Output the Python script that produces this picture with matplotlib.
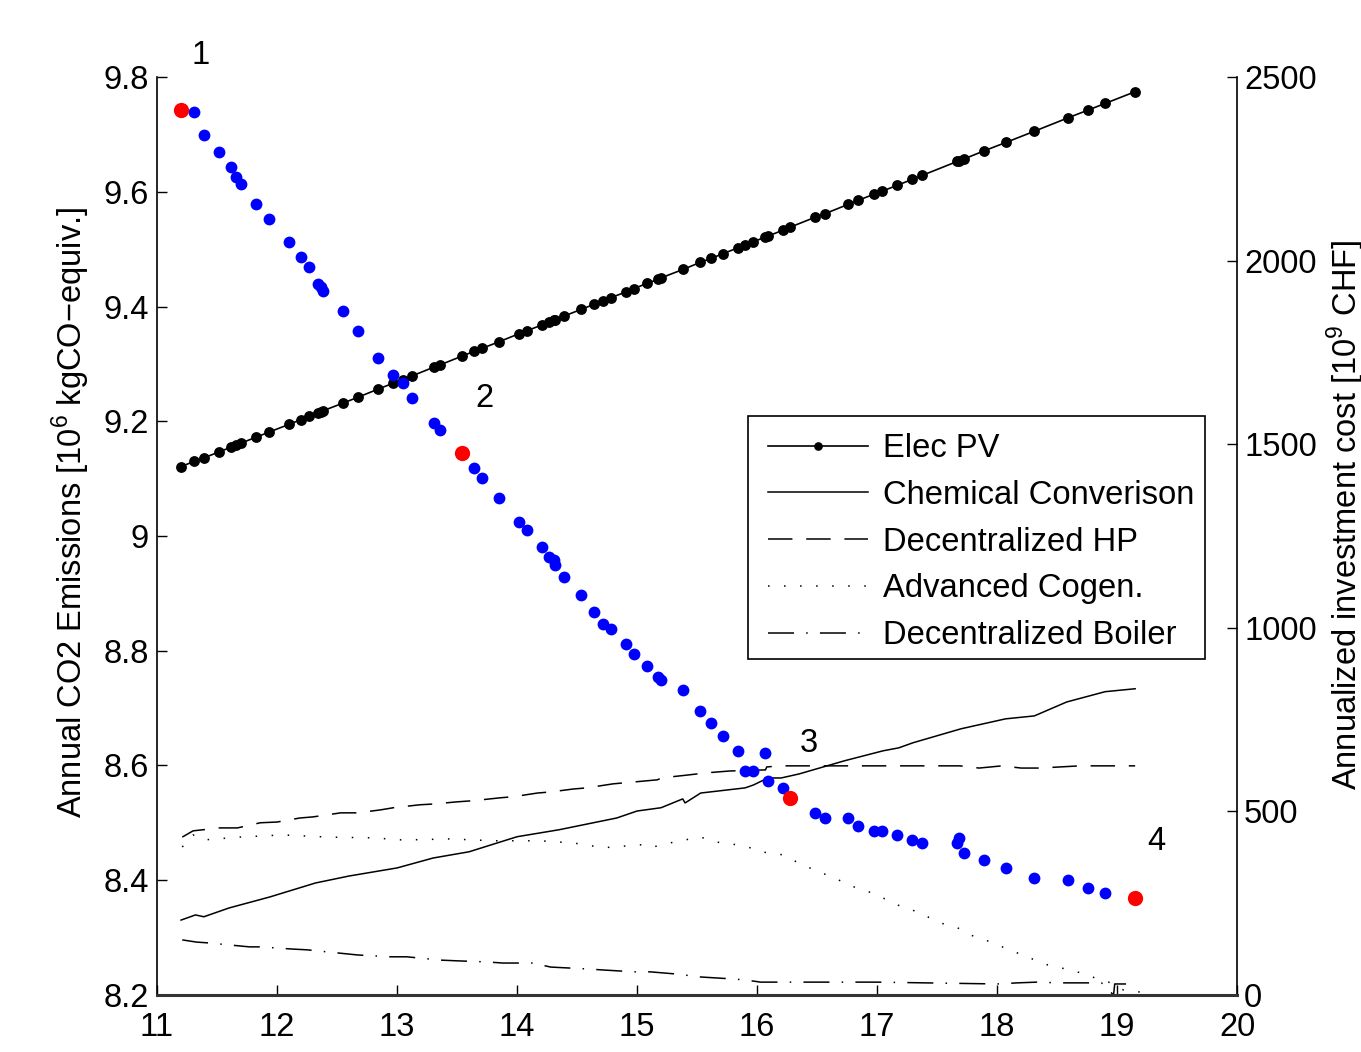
import matplotlib
matplotlib.use("Agg")
import matplotlib.pyplot as plt
from matplotlib.patches import Rectangle

plt.rcParams['font.family'] = ['Liberation Sans', 'DejaVu Sans']
plt.rcParams['mathtext.fontset'] = 'custom'
plt.rcParams['mathtext.rm'] = 'Liberation Sans'

# ---- Pareto front (x: total cost, left axis: emissions, right axis: PV cost)
total_cost = [11.200, 11.308, 11.392, 11.517, 11.617, 11.658, 11.700, 11.825, 11.933, 12.100,
              12.200, 12.267, 12.342, 12.367, 12.383, 12.550, 12.675, 12.842, 12.967, 13.050,
              13.125, 13.308, 13.358, 13.542, 13.642, 13.708, 13.850, 14.017, 14.083, 14.208,
              14.267, 14.308, 14.317, 14.392, 14.533, 14.642, 14.717, 14.783, 14.908, 14.975,
              15.083, 15.175, 15.200, 15.383, 15.525, 15.617, 15.717, 15.842, 15.900, 15.967,
              16.067, 16.092, 16.217, 16.275, 16.483, 16.567, 16.758, 16.842, 16.975, 17.042,
              17.167, 17.292, 17.375, 17.667, 17.683, 17.725, 17.892, 18.075, 18.308, 18.592,
              18.758, 18.900, 19.150]
emissions = [9.7425, 9.739, 9.699, 9.669, 9.643, 9.626, 9.614, 9.579, 9.553, 9.512,
             9.486, 9.469, 9.439, 9.434, 9.427, 9.392, 9.357, 9.310, 9.281, 9.267,
             9.241, 9.197, 9.185, 9.145, 9.119, 9.101, 9.066, 9.024, 9.011, 8.981,
             8.963, 8.958, 8.950, 8.929, 8.897, 8.868, 8.847, 8.838, 8.812, 8.794,
             8.773, 8.754, 8.749, 8.732, 8.695, 8.674, 8.651, 8.625, 8.590, 8.590,
             8.622, 8.573, 8.561, 8.543, 8.517, 8.509, 8.509, 8.495, 8.486, 8.486,
             8.479, 8.470, 8.465, 8.465, 8.474, 8.448, 8.435, 8.421, 8.404, 8.400,
             8.387, 8.378, 8.369]
elec_pv = [1439, 1453, 1463, 1479, 1492, 1498, 1503, 1519, 1533, 1554,
           1567, 1576, 1585, 1589, 1591, 1612, 1628, 1650, 1666, 1676,
           1686, 1710, 1716, 1740, 1753, 1761, 1779, 1801, 1809, 1825,
           1833, 1838, 1839, 1849, 1867, 1881, 1890, 1899, 1915, 1924,
           1938, 1949, 1953, 1976, 1995, 2006, 2019, 2035, 2043, 2051,
           2064, 2067, 2083, 2091, 2118, 2128, 2153, 2164, 2181, 2189,
           2205, 2221, 2232, 2270, 2272, 2277, 2299, 2322, 2352, 2389,
           2410, 2428, 2460]
highlight_idx = [0, 23, 53, 72]
highlight_labels = ['1', '2', '3', '4']
label_x = [11.36, 13.725, 16.433, 19.325]
label_y = [9.838, 9.2405, 8.639, 8.4667]

# ---- Technology investment costs (right axis)
chem_x = [11.20, 11.32, 11.39, 11.60, 11.94, 12.32, 12.60, 13.00, 13.30, 13.60, 14.00, 14.35,
          14.83, 15.00, 15.20, 15.38, 15.40, 15.53, 15.90, 15.97, 16.09, 16.20, 16.35, 16.73,
          17.05, 17.18, 17.30, 17.70, 18.07, 18.31, 18.58, 18.90, 19.15]
chem_v = [204, 218, 213, 237, 267, 305, 324, 346, 373, 390, 431, 450,
          482, 501, 510, 534, 523, 550, 564, 572, 591, 591, 602, 638,
          665, 673, 687, 725, 752, 760, 798, 826, 834]

hp_x = [11.21, 11.30, 11.52, 11.67, 11.86, 12.00, 12.19, 12.30, 12.53, 12.67, 12.86, 12.97,
        13.19, 13.30, 13.50, 13.63, 13.86, 13.97, 14.17, 14.28, 14.47, 14.58, 14.80, 14.97,
        15.17, 15.20, 15.42, 15.58, 15.77, 16.07, 16.08, 16.19, 16.50, 16.80, 17.10, 17.40,
        17.69, 17.85, 18.04, 18.20, 18.36, 18.52, 18.69, 19.15]
hp_v = [430, 447, 455, 455, 469, 471, 482, 485, 496, 496, 504, 510,
        518, 520, 526, 529, 537, 540, 550, 553, 561, 564, 575, 580,
        586, 591, 599, 605, 610, 613, 621, 624, 624, 624, 624, 624,
        624, 618, 624, 618, 618, 621, 624, 624]

cogen_x = [11.21, 11.30, 11.38, 11.69, 12.05, 12.42, 12.80, 13.05, 13.44, 13.80, 14.19, 14.47,
           14.72, 15.03, 15.11, 15.23, 15.36, 15.53, 15.65, 15.90, 16.03, 16.23, 16.33, 16.44,
           16.58, 16.68, 16.81, 16.93, 17.05, 17.17, 17.29, 17.42, 17.53, 17.67, 17.78, 17.90,
           18.02, 18.15, 18.27, 18.42, 18.53, 18.70, 18.82, 18.93, 19.05, 19.19]
cogen_v = [403, 436, 422, 430, 436, 430, 428, 422, 425, 420, 420, 414,
           401, 409, 401, 411, 420, 430, 417, 406, 390, 381, 362, 346,
           327, 313, 294, 281, 264, 245, 232, 213, 196, 183, 163, 150,
           134, 117, 101, 82, 74, 60, 46, 35, 14, 8]

boiler_x = [11.21, 11.33, 11.42, 11.77, 11.86, 12.13, 12.25, 12.52, 12.67, 12.94, 13.08, 13.36,
            13.50, 13.75, 13.88, 14.13, 14.28, 14.58, 14.72, 14.98, 15.11, 15.33, 15.53, 15.78,
            15.90, 16.03, 16.13, 17.00, 18.00, 18.17, 18.33, 18.52, 18.74, 18.87, 18.97, 18.98,
            19.15]
boiler_v = [150, 144, 142, 131, 131, 125, 123, 114, 109, 104, 104, 95,
            93, 90, 87, 87, 76, 71, 68, 63, 63, 57, 49, 44,
            41, 35, 35, 35, 30, 33, 35, 33, 33, 33, 0, 30,
            30]

legend_labels = ['Elec PV', 'Chemical Converison', 'Decentralized HP',
                 'Advanced Cogen.', 'Decentralized Boiler']

FS = 23.5
fig = plt.figure(figsize=(13.61, 10.52), dpi=100)
ax = fig.add_axes([0.1154, 0.0542, 0.7936, 0.8726])
ax2 = ax.twinx()
ax.set_zorder(ax2.get_zorder() + 1)
ax.patch.set_visible(False)

# right-axis technology lines
l1, = ax2.plot(total_cost, elec_pv, color='black', lw=1.2, marker='o', ms=7.8,
               markeredgewidth=0)
l2, = ax2.plot(chem_x, chem_v, color='black', lw=1.1)
l3, = ax2.plot(hp_x, hp_v, color='black', lw=1.1, linestyle=(0, (16, 9)))
l4, = ax2.plot(cogen_x, cogen_v, color='black', lw=1.1, linestyle=(0, (1, 9.5)))
l5, = ax2.plot(boiler_x, boiler_v, color='black', lw=1.1, linestyle=(0, (17, 8, 1, 8)))

# left-axis Pareto front
ax.plot(total_cost, emissions, linestyle='none', marker='o', ms=8.5,
        color='#0000ff', markeredgewidth=0)
hx = [total_cost[i] for i in highlight_idx]
hy = [emissions[i] for i in highlight_idx]
ax.plot(hx, hy, linestyle='none', marker='o', ms=11, color='#ff0000', markeredgewidth=0)
for t, tx, ty in zip(highlight_labels, label_x, label_y):
    ax.text(tx, ty, t, fontsize=FS, ha='center', va='center', clip_on=False)

ax.set_xlim(11, 20)
ax.set_ylim(8.2, 9.8)
ax2.set_ylim(0, 2500)
ax.set_xticks(range(11, 21))
ax.set_xticklabels([str(v) for v in range(11, 21)])
ax.set_yticks([8.2, 8.4, 8.6, 8.8, 9.0, 9.2, 9.4, 9.6, 9.8])
ax.set_yticklabels(['8.2', '8.4', '8.6', '8.8', '9', '9.2', '9.4', '9.6', '9.8'])
ax2.set_yticks([0, 500, 1000, 1500, 2000, 2500])

for a in (ax, ax2):
    a.spines['top'].set_visible(False)
ax.spines['right'].set_visible(False)
ax2.spines['left'].set_visible(False)
ax2.spines['bottom'].set_visible(False)
ax.spines['bottom'].set_linewidth(2.2)
ax.spines['bottom'].set_color('#333333')
ax.spines['left'].set_linewidth(1.2)
ax2.spines['right'].set_linewidth(1.2)

ax.tick_params(axis='both', direction='in', length=7, width=1, labelsize=FS)
ax.tick_params(axis='x', pad=12)
ax.tick_params(axis='y', pad=6)
ax2.tick_params(axis='y', direction='in', length=7, width=1, labelsize=FS, pad=5)

ax.set_ylabel('Annual CO2 Emissions [10$^{6}$ kgCO\u2212equiv.]', fontsize=FS, labelpad=8)
ax2.set_ylabel('Annualized investment cost [10$^{9}$ CHF]', fontsize=FS, labelpad=6)
ax.yaxis.label.set_y(0.526)
ax2.yaxis.label.set_y(0.523)

# legend box (drawn as a frame) and legend entries
frame = Rectangle((0.547, 0.366), 0.423, 0.2647, transform=ax2.transAxes,
                  facecolor='white', edgecolor='black', linewidth=1.2, zorder=4.5)
ax2.add_patch(frame)
leg = ax2.legend([l1, l2, l3, l4, l5], legend_labels, loc='upper left',
                 bbox_to_anchor=(0.5657, 0.612), borderaxespad=0, fontsize=23.6,
                 frameon=False, handlelength=3.05, handletextpad=0.45,
                 labelspacing=0.48, borderpad=0.0, markerscale=0.8)
leg.set_zorder(5)

fig.savefig('out.png', dpi=100)
